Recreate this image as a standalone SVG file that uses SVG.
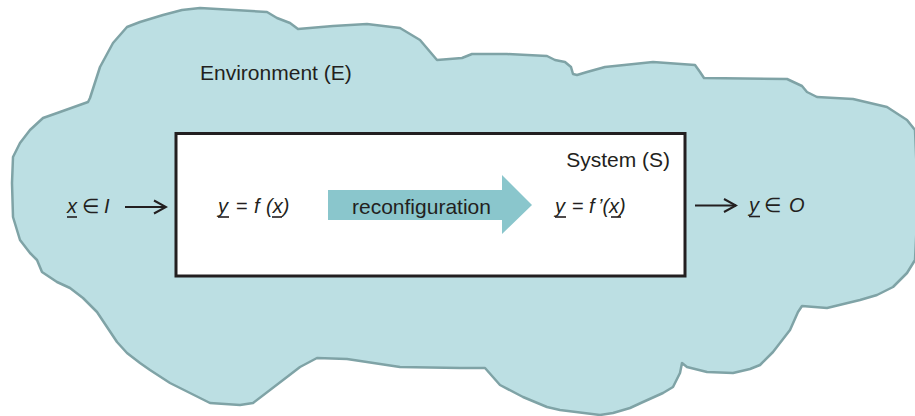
<svg xmlns="http://www.w3.org/2000/svg" width="915" height="416" viewBox="0 0 915 416">
<style>
.lbl{font-family:"Liberation Sans",Arial,sans-serif;font-size:21px;fill:#231f20}
.m{font-family:"Liberation Sans",Arial,sans-serif;font-size:20px;fill:#231f20;font-style:italic}
.u{stroke:#231f20;stroke-width:1.6}
.conn{stroke:#231f20;stroke-width:2;fill:none}
</style>
<defs>
<marker id="head" markerUnits="userSpaceOnUse" markerWidth="16" markerHeight="16" viewBox="0 0 16 16" refX="14" refY="8" orient="auto">
<path d="M2,1.5 L14,8 L2,14.5" fill="none" stroke="#231f20" stroke-width="2"/>
</marker>
</defs>
<g id="environment">
<path d="M88,102 L90,98 L100,67 L113,43 L127,27 L140,22 L163,15 L182,10 L200,8 L267,12 L277,18 L290,23 L298,29 L333,26 L367,24 L400,28 L420,40 L437,60 L462,58 L472,54 L507,54 L547,56 L555,60 L565,62 L571,67 L573,74 L577,75 L587,72 L605,67 L653,62 L695,65 L700,72 L704,78 L787,79 L802,86 L807,92 L817,97 L853,99 L887,107 L907,120 L915,130 L918,200 L915,260 L907,273 L893,287 L877,295 L860,300 L827,308 L802,306 L798,312 L790,330 L773,352 L760,365 L750,369 L733,373 L707,372 L687,367 L682,363 L680,373 L673,387 L663,393 L643,402 L630,408 L613,413 L600,415 L560,410 L547,407 L523,397 L500,385 L485,368 L460,368 L400,367 L347,359 L317,358 L300,367 L287,377 L253,403 L240,405 L210,403 L200,398 L170,383 L150,370 L140,363 L127,353 L117,342 L107,327 L97,312 L83,298 L70,288 L57,282 L42,272 L37,260 L30,253 L20,240 L13,217 L12,183 L13,157 L20,143 L30,130 L43,118 L60,112 Z" fill="#bcdfe3" stroke="#7fa3a6" stroke-width="2.5" stroke-linejoin="round"/>
<text class="lbl" x="200" y="80">Environment (E)</text>
</g>
<g id="system">
<rect x="176" y="133.5" width="509" height="142.5" fill="#ffffff" stroke="#231f20" stroke-width="3"/>
<text class="lbl" x="670" y="167" text-anchor="end">System (S)</text>
</g>
<g id="reconfiguration">
<polygon points="328,190 502,190 502,175 532,205 502,234 502,220 328,220" fill="#8ac6cc"/>
<text class="lbl" x="352" y="214">reconfiguration</text>
</g>
<g id="f">
<text class="m" y="213"><tspan x="218">y</tspan><tspan x="236" font-style="normal">=</tspan><tspan x="254">f</tspan><tspan x="266">(x)</tspan></text>
<line class="u" x1="218" y1="217" x2="229" y2="217"/>
<line class="u" x1="272" y1="217" x2="282" y2="217"/>
</g>
<g id="fprime">
<text class="m" y="213"><tspan x="555">y</tspan><tspan x="572" font-style="normal">=</tspan><tspan x="589">f</tspan><tspan x="598">’(x)</tspan></text>
<line class="u" x1="555" y1="217" x2="566" y2="217"/>
<line class="u" x1="611" y1="217" x2="621" y2="217"/>
</g>
<g id="input">
<text class="m" y="213"><tspan x="67">x</tspan><tspan x="82" font-style="normal">∈</tspan><tspan x="104">I</tspan></text>
<line class="u" x1="67" y1="217" x2="77" y2="217"/>
</g>
<g id="output">
<text class="m" y="212"><tspan x="749">y</tspan><tspan x="764" font-style="normal">∈</tspan><tspan x="789">O</tspan></text>
<line class="u" x1="749" y1="216.5" x2="760" y2="216.5"/>
</g>
<g id="connectors">
<line class="conn" x1="125" y1="207" x2="166" y2="207" marker-end="url(#head)"/>
<line class="conn" x1="695" y1="205.5" x2="736" y2="205.5" marker-end="url(#head)"/>
</g>
</svg>
